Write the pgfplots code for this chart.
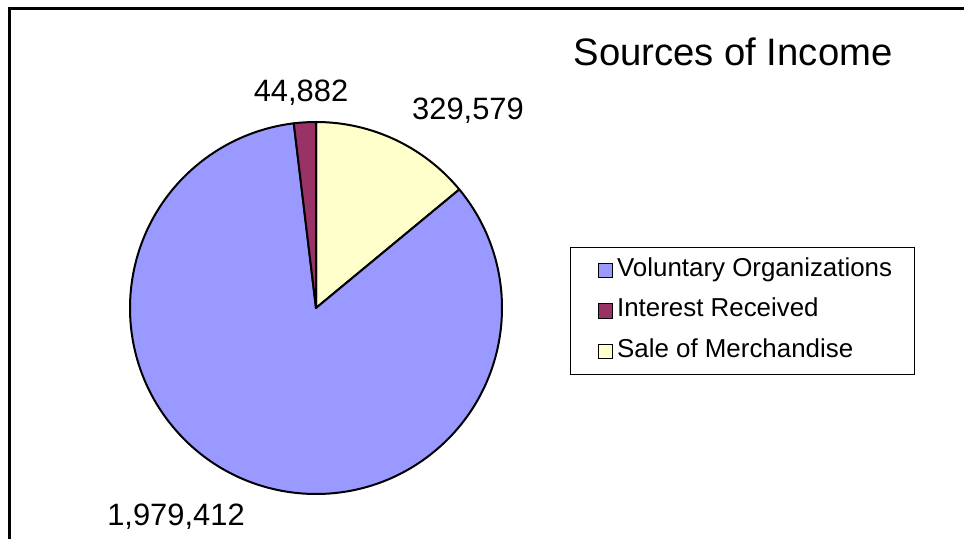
\documentclass[border=0pt]{standalone}
\usepackage{pgfplots}
\pgfplotsset{compat=1.18}
\usepackage{pgfplotstable}
\usepackage{fontspec}
\setmainfont{Liberation Sans}
\definecolor{vol}{HTML}{9999FF}
\definecolor{inte}{HTML}{993366}
\definecolor{sale}{HTML}{FFFFCC}

% slices in drawing order, clockwise from 12 o'clock
\pgfplotstableread{
label value
Sale 329579
Voluntary 1979412
Interest 44882
}\income

\pgfplotstablegetelem{0}{value}\of\income \let\vSale\pgfplotsretval
\pgfplotstablegetelem{1}{value}\of\income \let\vVol\pgfplotsretval
\pgfplotstablegetelem{2}{value}\of\income \let\vInt\pgfplotsretval
\edef\total{\fpeval{\vSale+\vVol+\vInt}}
\edef\aA{90}
\edef\aB{\fpeval{90-360*\vSale/\total}}
\edef\aC{\fpeval{\aB-360*\vVol/\total}}
\edef\aD{-270}

\begin{document}
\begin{tikzpicture}
\begin{axis}[
  scale only axis,
  width=482bp, height=269.5bp,
  xmin=0, xmax=964, ymin=0, ymax=539,
  axis lines=none,
  clip=false,
  legend style={at={(axis cs:570,292)}, anchor=north west,
    draw=black, line width=0.5bp,
    font=\fontsize{13}{15}\selectfont,
    inner xsep=9bp, inner ysep=4.5bp,
    row sep=6.25bp,
    nodes={text height=10bp, text depth=4bp, inner ysep=0bp, inner xsep=2bp},
    cells={anchor=west}},
  legend image code/.code={\path (0bp,0bp); \draw[#1] (4.5bp,-3.6bp) rectangle (11.7bp,3.6bp);},
]
\addlegendimage{fill=vol, draw=black, line width=0.6bp}
\addlegendimage{fill=inte, draw=black, line width=0.6bp}
\addlegendimage{fill=sale, draw=black, line width=0.6bp}
\legend{Voluntary Organizations, Interest Received, Sale of Merchandise}

\filldraw[fill=sale, draw=black, line width=1bp, line join=round]
  (axis cs:316,231) -- ++(\aA:93bp) arc[start angle=\aA, end angle=\aB, radius=93bp] -- cycle;
\filldraw[fill=vol, draw=black, line width=1bp, line join=round]
  (axis cs:316,231) -- ++(\aB:93bp) arc[start angle=\aB, end angle=\aC, radius=93bp] -- cycle;
\filldraw[fill=inte, draw=black, line width=1bp, line join=round]
  (axis cs:316,231) -- ++(\aC:93bp) arc[start angle=\aC, end angle=\aD, radius=93bp] -- cycle;

\node[font=\fontsize{15.5}{18}\selectfont] at (axis cs:301,446) {44,882};
\node[font=\fontsize{15.5}{18}\selectfont] at (axis cs:468,428) {329,579};
\node[font=\fontsize{15.5}{18}\selectfont] at (axis cs:176,22) {1,979,412};
\node[font=\fontsize{19.2}{22}\selectfont] at (axis cs:733,487) {Sources of Income};

\draw[line width=1.5bp] (axis cs:9,0) -- (axis cs:9,530) -- (axis cs:964,530);
\end{axis}
\pgfresetboundingbox
\useasboundingbox (current axis.south west) rectangle (current axis.north east);
\end{tikzpicture}
\end{document}
